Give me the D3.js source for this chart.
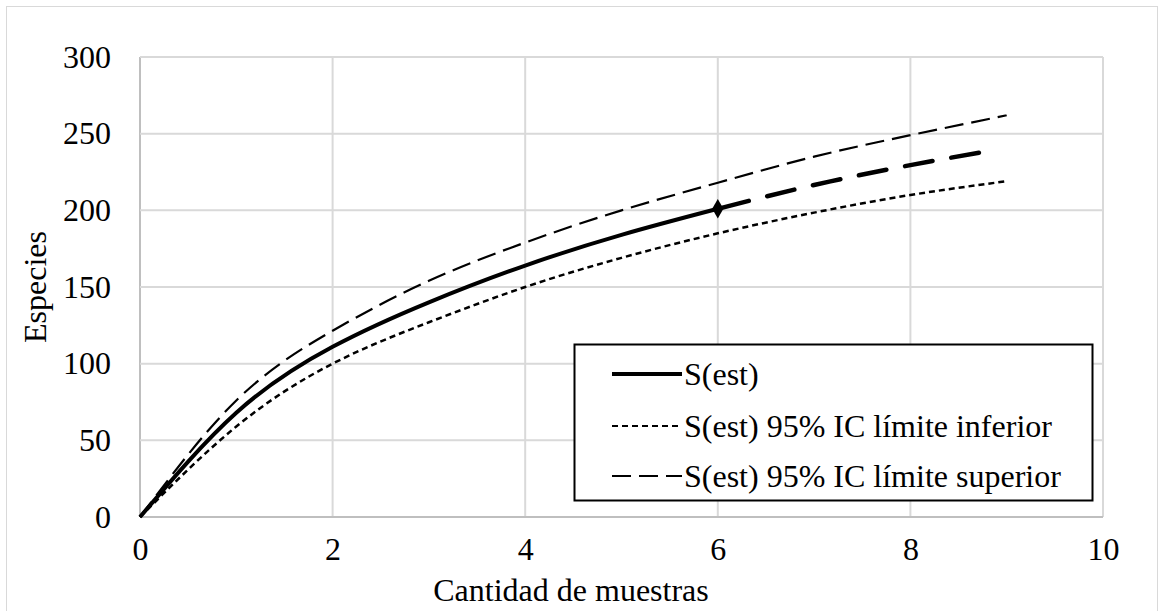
<!DOCTYPE html>
<meta charset="utf-8">
<script src="https://d3js.org/d3.v7.min.js"></script>
<style>
  body { margin: 0; background: #fff; }
</style>
<div id="chart"></div>
<script>

// data
const xObs = [0, 1, 2, 3, 4, 5, 6];
const sEst = [0, 68, 111, 140, 164, 184, 201];
const xExt = [6, 7, 8, 8.85];
const sExt = [201, 216.5, 229.5, 239];
const xCI = [0, 1, 2, 3, 4, 5, 6, 7, 8, 9];
const ciLow = [0, 59, 100, 127, 150, 169, 185, 198.5, 210, 219];
const ciHigh = [0, 76, 121.5, 154, 179, 200, 218, 235, 249, 262];
const xTicks = [0, 2, 4, 6, 8, 10];
const yTicks = [0, 50, 100, 150, 200, 250, 300];
const legendLabels = ["S(est)", "S(est) 95% IC límite inferior", "S(est) 95% IC límite superior"];

const FONT = "'Liberation Serif', 'Times New Roman', Tinos, 'DejaVu Serif', serif";
const FS = 32;
const W = 1164, H = 611;
const margin = {top: 57, right: 61, bottom: 94, left: 140};
const width = W - margin.left - margin.right,
      height = H - margin.top - margin.bottom;

const svg = d3.select("#chart")
  .append("svg")
    .attr("width", W)
    .attr("height", H)
    .attr("font-family", FONT);

// outer chart frame
svg.append("rect")
  .attr("x", 6.5).attr("y", 6.5)
  .attr("width", 1151).attr("height", 620)
  .attr("fill", "none")
  .attr("stroke", "#d9d9d9");

const g = svg.append("g")
  .attr("transform", `translate(${margin.left}, ${margin.top})`);

const x = d3.scaleLinear().domain([0, 10]).range([0, width]);
const y = d3.scaleLinear().domain([0, 300]).range([height, 0]);

// gridlines
g.append("g")
  .selectAll("line")
  .data(xTicks)
  .join("line")
    .attr("x1", d => x(d)).attr("x2", d => x(d))
    .attr("y1", 0).attr("y2", height)
    .attr("stroke", d => d === 0 ? "#bfbfbf" : "#d9d9d9")
    .attr("stroke-width", 2);

g.append("g")
  .selectAll("line")
  .data(yTicks)
  .join("line")
    .attr("x1", 0).attr("x2", width)
    .attr("y1", d => y(d)).attr("y2", d => y(d))
    .attr("stroke", d => d === 0 ? "#bfbfbf" : "#d9d9d9")
    .attr("stroke-width", 2);

// axes (labels only, Excel style)
const xAxis = g.append("g")
  .attr("transform", `translate(0, ${height})`)
  .call(d3.axisBottom(x).tickValues(xTicks).tickSize(0).tickPadding(20));
const yAxis = g.append("g")
  .call(d3.axisLeft(y).tickValues(yTicks).tickSize(0).tickPadding(29));
[xAxis, yAxis].forEach(a => {
  a.attr("font-family", FONT).attr("font-size", FS);
  a.select(".domain").remove();
  a.selectAll("text").attr("fill", "#000");
});

// axis titles
svg.append("text")
  .attr("x", 571)
  .attr("y", 601)
  .attr("text-anchor", "middle")
  .attr("font-size", FS)
  .text("Cantidad de muestras");

svg.append("text")
  .attr("transform", `translate(46, ${margin.top + height / 2}) rotate(-90)`)
  .attr("text-anchor", "middle")
  .attr("font-size", FS)
  .text("Especies");

const line = d3.line()
  .x(d => x(d[0]))
  .y(d => y(d[1]))
  .curve(d3.curveNatural);

// lower CI
g.append("path")
  .datum(d3.zip(xCI, ciLow))
  .attr("fill", "none")
  .attr("stroke", "#000")
  .attr("stroke-width", 2.5)
  .attr("stroke-dasharray", "6,4")
  .attr("d", line);

// upper CI
g.append("path")
  .datum(d3.zip(xCI, ciHigh))
  .attr("fill", "none")
  .attr("stroke", "#000")
  .attr("stroke-width", 2.2)
  .attr("stroke-dasharray", "19,8")
  .attr("d", line);

// S(est) observed
g.append("path")
  .datum(d3.zip(xObs, sEst))
  .attr("fill", "none")
  .attr("stroke", "#000")
  .attr("stroke-width", 4)
  .attr("d", line);

// S(est) extrapolated
g.append("path")
  .datum(d3.zip(xExt, sExt))
  .attr("fill", "none")
  .attr("stroke", "#000")
  .attr("stroke-width", 4.5)
  .attr("stroke-linecap", "round")
  .attr("stroke-dasharray", "28,19")
  .attr("stroke-dashoffset", -4)
  .attr("d", line);

// marker at last observed point
g.append("path")
  .attr("d", d3.symbol().type(d3.symbolDiamond).size(110)())
  .attr("transform", `translate(${x(xObs[xObs.length - 1])}, ${y(sEst[sEst.length - 1])})`)
  .attr("fill", "#000");

// legend
const lg = svg.append("g");
lg.append("rect")
  .attr("x", 574.5).attr("y", 344.5)
  .attr("width", 518).attr("height", 156)
  .attr("fill", "#fff")
  .attr("stroke", "#000")
  .attr("stroke-width", 2);

const legendStyles = [
  {w: 4, dash: null},
  {w: 2, dash: "6,4"},
  {w: 2.2, dash: "19,8"}
];
const rowY = [374, 426, 476];

legendLabels.forEach((lab, i) => {
  lg.append("line")
    .attr("x1", 612).attr("x2", 682)
    .attr("y1", rowY[i]).attr("y2", rowY[i])
    .attr("stroke", "#000")
    .attr("stroke-width", legendStyles[i].w)
    .attr("stroke-dasharray", legendStyles[i].dash);
  lg.append("text")
    .attr("x", 684)
    .attr("y", rowY[i])
    .attr("dy", "0.35em")
    .attr("font-size", FS)
    .text(lab);
});
</script>
